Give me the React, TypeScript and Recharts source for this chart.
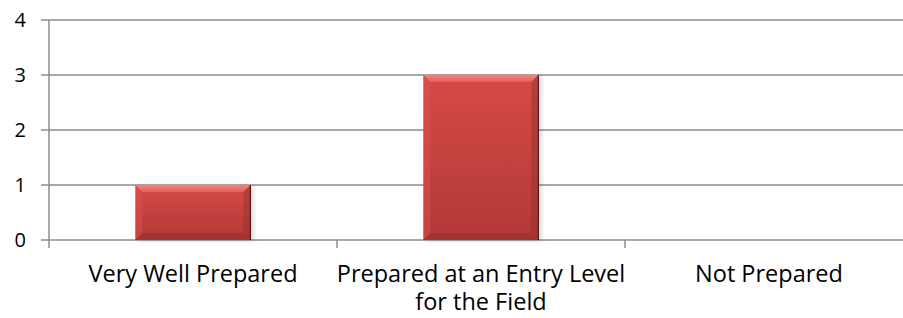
import React from "react";
import { BarChart, Bar, XAxis, YAxis, CartesianGrid } from "recharts";

const categories = [
  "Very Well Prepared",
  "Prepared at an Entry Level for the Field",
  "Not Prepared",
];
const tickLines = [
  ["Very Well Prepared"],
  ["Prepared at an Entry Level", "for the Field"],
  ["Not Prepared"],
];
const counts = [1, 3, 0];
const yTicks = [0, 1, 2, 3, 4];

const data = categories.map((name, i) => ({ name, value: counts[i] }));

const FONT = "'Open Sans', Lato, 'DejaVu Sans', sans-serif";
const GRID = "#8c8c8c";

const BevelBar = (props: any) => {
  const { x, y, width, height } = props;
  if (!height || height <= 0 || !width) return null;
  const b = Math.min(7, height / 4, width / 4);
  return (
    <g>
      <rect x={x + 2} y={y + 1} width={width + 1} height={height} fill="#000" opacity={0.16} filter="url(#barShadow)" />
      <rect x={x} y={y} width={width} height={height} fill="url(#barBody)" />
      <polygon
        points={`${x},${y} ${x + width},${y} ${x + width - b},${y + b} ${x + b},${y + b}`}
        fill="url(#bevelTop)"
      />
      <polygon
        points={`${x},${y} ${x + b},${y + b} ${x + b},${y + height - b} ${x},${y + height}`}
        fill="#d95451"
        opacity={0.45}
      />
      <polygon
        points={`${x + width},${y} ${x + width - b},${y + b} ${x + width - b},${y + height - b} ${x + width},${y + height}`}
        fill="#9a2e2c"
        opacity={0.45}
      />
      <polygon
        points={`${x},${y + height} ${x + b},${y + height - b} ${x + width - b},${y + height - b} ${x + width},${y + height}`}
        fill="#8e2927"
        opacity={0.4}
      />
      <line x1={x + width} y1={y} x2={x + width} y2={y + height} stroke="#5e1514" strokeWidth={1.2} />
    </g>
  );
};

const XTick = (props: any) => {
  const { x, y, payload, index, visibleTicksCount, width } = props;
  const off =
    payload && typeof payload.offset === "number" && payload.offset > 0
      ? payload.offset
      : width / (2 * (visibleTicksCount || categories.length));
  const isLast = index === (visibleTicksCount || categories.length) - 1;
  const idx = categories.indexOf(payload.value);
  const lines = idx >= 0 ? tickLines[idx] : [String(payload.value)];
  return (
    <g>
      <line x1={x - off} y1={y} x2={x - off} y2={y + 8} stroke={GRID} strokeWidth={1.5} />
      {isLast && <line x1={x + off} y1={y} x2={x + off} y2={y + 8} stroke={GRID} strokeWidth={1.5} />}
      <text
        x={x}
        y={y + 42}
        textAnchor="middle"
        fill="#000"
        fontSize={23.5}
        fontFamily={FONT}
      >
        {lines.map((ln, i) => (
          <tspan key={i} x={x} dy={i === 0 ? 0 : 28}>
            {ln}
          </tspan>
        ))}
      </text>
    </g>
  );
};

export default function App() {
  return (
    <div
      style={{
        position: "absolute",
        left: 0,
        top: 0,
        width: 903,
        height: 318,
        overflow: "hidden",
        background: "#fff",
      }}
    >
      <BarChart
        width={930}
        height={318}
        data={data}
        margin={{ top: 20, right: 17, bottom: 0, left: 0 }}
        barCategoryGap="30%"
      >
        <defs>
          <linearGradient id="barBody" x1="0" y1="0" x2="0" y2="1">
            <stop offset="0%" stopColor="#d64a47" />
            <stop offset="100%" stopColor="#b23936" />
          </linearGradient>
          <linearGradient id="bevelTop" x1="0" y1="0" x2="0" y2="1">
            <stop offset="0%" stopColor="#f28482" />
            <stop offset="100%" stopColor="#e0605d" />
          </linearGradient>
          <filter id="barShadow" x="-10%" y="-10%" width="130%" height="130%">
            <feGaussianBlur stdDeviation="2" />
          </filter>
        </defs>
        <CartesianGrid horizontal vertical={false} stroke={GRID} strokeWidth={1.5} strokeDasharray="" />
        <XAxis
          dataKey="name"
          height={78}
          axisLine={false}
          tickLine={false}
          tickSize={0}
          tickMargin={0}
          interval={0}
          tick={<XTick />}
        />
        <YAxis
          width={49}
          domain={[0, 4]}
          ticks={yTicks}
          interval={0}
          axisLine={{ stroke: GRID, strokeWidth: 1.5 }}
          tickLine={{ stroke: GRID, strokeWidth: 1.5 }}
          tickSize={8}
          tickMargin={15}
          tick={{ fill: "#000", fontSize: 20, fontFamily: FONT }}
        />
        <Bar dataKey="value" isAnimationActive={false} shape={<BevelBar />} />
      </BarChart>
    </div>
  );
}
